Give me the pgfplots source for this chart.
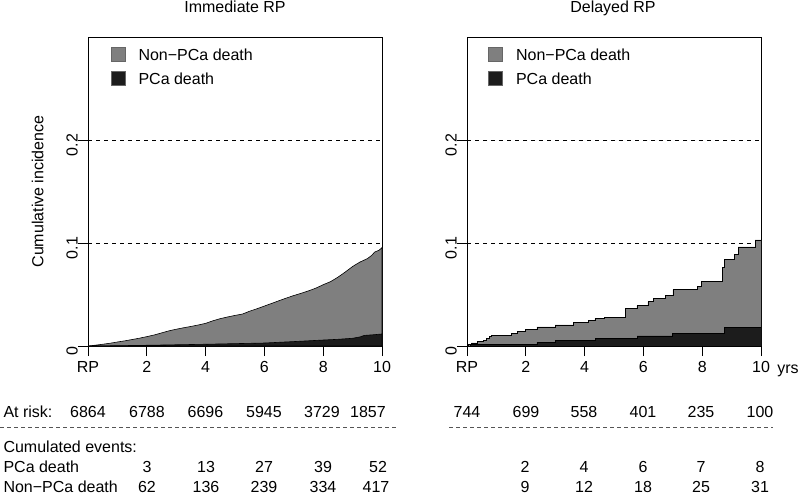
\documentclass[border=0pt]{standalone}
\usepackage{pgfplots}
\pgfplotsset{compat=1.18}
\usepackage{fontspec}
\setmainfont{Liberation Sans}

\definecolor{otherdeath}{HTML}{7F7F7F}
\definecolor{pcadeath}{HTML}{1C1C1C}
\definecolor{rulegray}{HTML}{555555}

% cumulative incidence, stacked: total (non-PCa + PCa) and PCa alone
\pgfplotstableread{
t      ci
0      0
0.25   0.0008
0.5    0.0017
0.75   0.0027
1.0    0.0039
1.25   0.0050
1.5    0.0063
1.75   0.0076
2.0    0.0091
2.25   0.0107
2.5    0.0127
2.75   0.0147
3.0    0.0163
3.25   0.0177
3.5    0.0190
3.75   0.0204
4.0    0.0220
4.25   0.0245
4.5    0.0266
4.75   0.0282
5.0    0.0297
5.25   0.0310
5.5    0.0338
5.75   0.0362
6.0    0.0388
6.25   0.0414
6.5    0.0440
6.75   0.0466
7.0    0.0490
7.25   0.0512
7.5    0.0535
7.75   0.0562
8.0    0.0595
8.25   0.0625
8.5    0.0668
8.75   0.0718
9.0    0.0772
9.25   0.0815
9.5    0.0848
9.65   0.0880
9.75   0.0912
9.9    0.0930
10.0   0.0955
}\immtotal
\pgfplotstableread{
t      ci
0      0
0.5    0.0001
1.0    0.0003
2.0    0.0007
3.0    0.0012
4.0    0.0017
5.0    0.0023
6.0    0.0029
7.0    0.0043
8.0    0.0058
8.5    0.0065
9.0    0.0075
9.25   0.0088
9.4    0.0103
9.75   0.0110
10.0   0.0117
}\immpca
\pgfplotstableread{
t      ci
0      0
0.05   0.0013
0.15   0.0030
0.35   0.0045
0.56   0.0058
0.65   0.0075
0.75   0.0090
0.84   0.0105
1.52   0.0122
1.72   0.0140
1.98   0.0162
2.38   0.0185
3.0    0.0205
3.63   0.0228
4.14   0.0248
4.35   0.0265
4.68   0.0280
5.40   0.0366
5.78   0.0392
6.15   0.0430
6.33   0.0462
6.75   0.0492
7.0    0.0548
7.85   0.0582
7.98   0.0626
8.69   0.0760
8.75   0.0838
9.09   0.0888
9.22   0.0962
9.80   0.1030
10.0   0.1030
}\deltotal
\pgfplotstableread{
t      ci
0      0
0.1    0.0012
2.38   0.0034
3.0    0.0053
4.37   0.0075
5.79   0.0098
6.98   0.0124
8.75   0.0180
10.0   0.0180
}\delpca

\pgfplotsset{
  cifpanel/.style={
    scale only axis, width=294pt, height=309pt,
    xmin=0, xmax=10, ymin=0, ymax=0.3,
    axis line style={line width=0.8pt},
    xtick={0,2,4,6,8,10}, xticklabels={RP,2,4,6,8,10},
    ytick={0,0.1,0.2}, yticklabels={0,0.1,0.2},
    xtick pos=bottom, ytick pos=left,
    tick align=outside, major tick length=10pt,
    tick style={line width=0.8pt, black},
    xticklabel style={anchor=north, inner sep=0pt, yshift=-5pt},
    yticklabel style={rotate=90, anchor=south, inner sep=0pt, xshift=-5pt},
    legend style={draw=none, fill=none, anchor=north west, inner sep=0pt,
      outer sep=0pt, row sep=8.6pt, column sep=13pt,
      nodes={anchor=base west, inner sep=0pt}},
    legend image code/.code={
      \draw[##1, draw=black!60, line width=0.6pt] (0pt,-0.5pt) rectangle (14pt,13.5pt);},
  },
  refline/.style={black, line width=0.7pt, dash pattern=on 4pt off 4pt, forget plot},
  totalarea/.style={fill=otherdeath, draw=black, line width=0.6pt},
  pcaarea/.style={fill=pcadeath, draw=black, line width=0.6pt},
}

\begin{document}
\begin{tikzpicture}[x=1pt, y=-1pt, font=\fontsize{16}{19}\selectfont]
\path[use as bounding box] (0,0) rectangle (800,496);

% immediate RP: many small steps, drawn as a fine outline
\begin{axis}[cifpanel, at={(88pt,-346pt)}, anchor=south west,
  legend style={at={(0.078,0.9676)}}]
\addplot[refline] coordinates {(0,0.1) (10,0.1)};
\addplot[refline] coordinates {(0,0.2) (10,0.2)};
\addplot[totalarea, sharp plot] table[x=t, y=ci] {\immtotal} \closedcycle;
\addplot[pcaarea, sharp plot] table[x=t, y=ci] {\immpca} \closedcycle;
\legend{Non−PCa death, PCa death}
\end{axis}

% delayed RP: few events, clear steps
\begin{axis}[cifpanel, at={(467pt,-346pt)}, anchor=south west,
  legend style={at={(0.073,0.9676)}}]
\addplot[refline] coordinates {(0,0.1) (10,0.1)};
\addplot[refline] coordinates {(0,0.2) (10,0.2)};
\addplot[totalarea, const plot] table[x=t, y=ci] {\deltotal} \closedcycle;
\addplot[pcaarea, const plot] table[x=t, y=ci] {\delpca} \closedcycle;
\legend{Non−PCa death, PCa death}
\end{axis}

% titles and axis label
\node[anchor=base] at (235,12.7) {Immediate RP};
\node[anchor=base] at (613,12.7) {Delayed RP};
\node[anchor=base, rotate=90] at (43.3,191.5) {Cumulative incidence};
\node[anchor=base] at (788,373.3) {yrs};

% numbers at risk
\node[anchor=base west] at (0,417.5) {At risk:};
\foreach \x/\n in {88/6864, 147/6788, 205.5/6696, 264/5945, 322/3729, 368/1857}
  \node[anchor=base] at (\x,417.5) {\n};
\foreach \x/\n in {467/744, 526/699, 584/558, 643/401, 701/235, 760/100}
  \node[anchor=base] at (\x,417.5) {\n};
\draw[rulegray, line width=0.8pt, dash pattern=on 4pt off 3pt] (0,427.3) -- (398,427.3);
\draw[rulegray, line width=0.8pt, dash pattern=on 4pt off 3pt] (449,427.3) -- (773,427.3);

% cumulated events
\node[anchor=base west] at (0,452.3) {Cumulated events:};
\node[anchor=base west] at (0,472.3) {PCa death};
\node[anchor=base west] at (0,492.3) {Non−PCa death};
\foreach \x/\n in {147/3, 206/13, 264/27, 323/39, 378/52}
  \node[anchor=base] at (\x,472.3) {\n};
\foreach \x/\n in {147/62, 206/136, 264/239, 323/334, 376/417}
  \node[anchor=base] at (\x,492.3) {\n};
\foreach \x/\n in {525/2, 584/4, 643/6, 701/7, 760/8}
  \node[anchor=base] at (\x,472.3) {\n};
\foreach \x/\n in {525/9, 584/12, 643/18, 701/25, 760/31}
  \node[anchor=base] at (\x,492.3) {\n};
\end{tikzpicture}
\end{document}
